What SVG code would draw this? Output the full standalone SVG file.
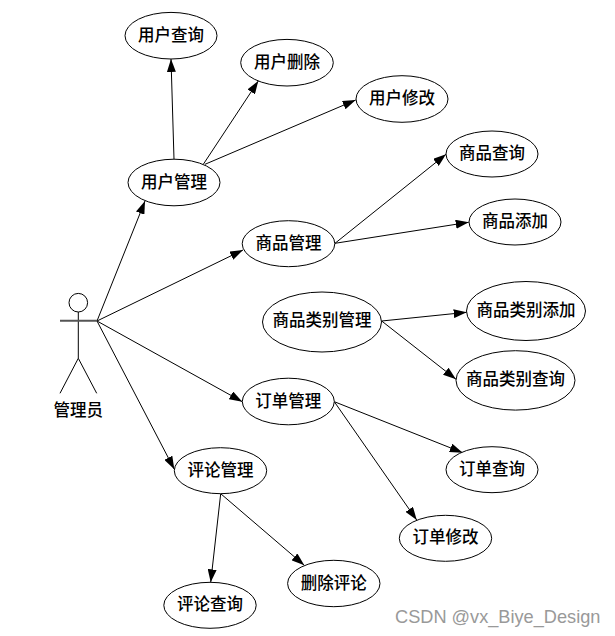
<svg xmlns="http://www.w3.org/2000/svg" width="615" height="636" viewBox="0 0 615 636">
<style>
.n ellipse{fill:#fff;stroke:#000;stroke-width:1}
.n text,.a{font-family:"Noto Sans CJK SC","Noto Sans CJK JP",sans-serif;font-size:16.5px;text-anchor:middle;fill:#000;font-weight:500}
#connectors line{stroke:#000;stroke-width:1;marker-end:url(#arr)}
#actor line,#actor circle{stroke:#000;stroke-width:1;fill:#fff}
.wm{font-family:"Liberation Sans",sans-serif;font-size:18.2px;fill:#999}
</style>
<defs><marker id="arr" markerUnits="userSpaceOnUse" markerWidth="13" markerHeight="9" refX="13" refY="4.5" orient="auto"><path d="M0 0L13 4.500L0 9Z" fill="#000"/></marker></defs>
<rect width="615" height="636" fill="#fff"/>
<g id="connectors">
<line x1="97" y1="321" x2="145" y2="201"/>
<line x1="97" y1="321" x2="243" y2="250"/>
<line x1="97" y1="321" x2="242.300" y2="401.700"/>
<line x1="97" y1="321" x2="174.300" y2="469.300"/>
<line x1="174" y1="159.300" x2="171" y2="59"/>
<line x1="203.300" y1="164.300" x2="258.300" y2="81"/>
<line x1="205" y1="164.300" x2="355.700" y2="100"/>
<line x1="335" y1="243.300" x2="446" y2="154.300"/>
<line x1="335" y1="243.300" x2="468.700" y2="222.300"/>
<line x1="381.700" y1="321" x2="466.700" y2="312.300"/>
<line x1="381.700" y1="321" x2="456" y2="379.300"/>
<line x1="334.300" y1="401.700" x2="462.700" y2="452.700"/>
<line x1="334.300" y1="401.700" x2="416.700" y2="520"/>
<line x1="220.700" y1="493.700" x2="210.700" y2="582.300"/>
<line x1="220.700" y1="493.700" x2="304.300" y2="565.300"/>
</g>
<g id="actor">
<circle cx="78.300" cy="302.700" r="9.300"/>
<line x1="78.300" y1="312" x2="78.300" y2="358.300"/>
<line x1="60" y1="320.700" x2="97.300" y2="320.700" style="stroke:#555;stroke-width:2"/>
<line x1="78.300" y1="358.300" x2="60" y2="393.300"/>
<line x1="78.300" y1="358.300" x2="96.700" y2="393.300"/>
<text class="a" x="78.300" y="416">管理员</text>
</g>
<g id="n1" class="n"><ellipse cx="171" cy="35.700" rx="46" ry="23.300"/><text x="171" y="40.700">用户查询</text></g>
<g id="n2" class="n"><ellipse cx="287" cy="62.700" rx="46.300" ry="23.300"/><text x="287" y="67.700">用户删除</text></g>
<g id="n3" class="n"><ellipse cx="402" cy="99" rx="46" ry="23.300"/><text x="402" y="104">用户修改</text></g>
<g id="n4" class="n"><ellipse cx="174" cy="182.500" rx="46" ry="23.300"/><text x="174" y="187.500">用户管理</text></g>
<g id="n5" class="n"><ellipse cx="288.500" cy="243.700" rx="46.300" ry="23"/><text x="288.500" y="248.700">商品管理</text></g>
<g id="n6" class="n"><ellipse cx="492" cy="154" rx="46" ry="23"/><text x="492" y="159">商品查询</text></g>
<g id="n7" class="n"><ellipse cx="515" cy="222" rx="46" ry="23"/><text x="515" y="227">商品添加</text></g>
<g id="n8" class="n"><ellipse cx="322" cy="322" rx="59.500" ry="30"/><text x="322" y="326">商品类别管理</text></g>
<g id="n9" class="n"><ellipse cx="526" cy="311" rx="59.500" ry="29.500"/><text x="526" y="316">商品类别添加</text></g>
<g id="n10" class="n"><ellipse cx="515.500" cy="380.400" rx="59.500" ry="29.700"/><text x="515.500" y="385">商品类别查询</text></g>
<g id="n11" class="n"><ellipse cx="288.300" cy="401.500" rx="46" ry="23.300"/><text x="288.300" y="406.500">订单管理</text></g>
<g id="n12" class="n"><ellipse cx="492" cy="469.700" rx="46" ry="23"/><text x="492" y="474.700">订单查询</text></g>
<g id="n13" class="n"><ellipse cx="445.500" cy="538.300" rx="46.200" ry="23"/><text x="445.500" y="543.300">订单修改</text></g>
<g id="n14" class="n"><ellipse cx="220.500" cy="470.700" rx="46.200" ry="23"/><text x="220.500" y="475.700">评论管理</text></g>
<g id="n15" class="n"><ellipse cx="210" cy="605.300" rx="46.200" ry="23"/><text x="210" y="610.300">评论查询</text></g>
<g id="n16" class="n"><ellipse cx="333.800" cy="583.500" rx="46.200" ry="23.200"/><text x="333.800" y="588.500">删除评论</text></g>
<text class="wm" x="395" y="623">CSDN @vx_Biye_Design</text>
</svg>
